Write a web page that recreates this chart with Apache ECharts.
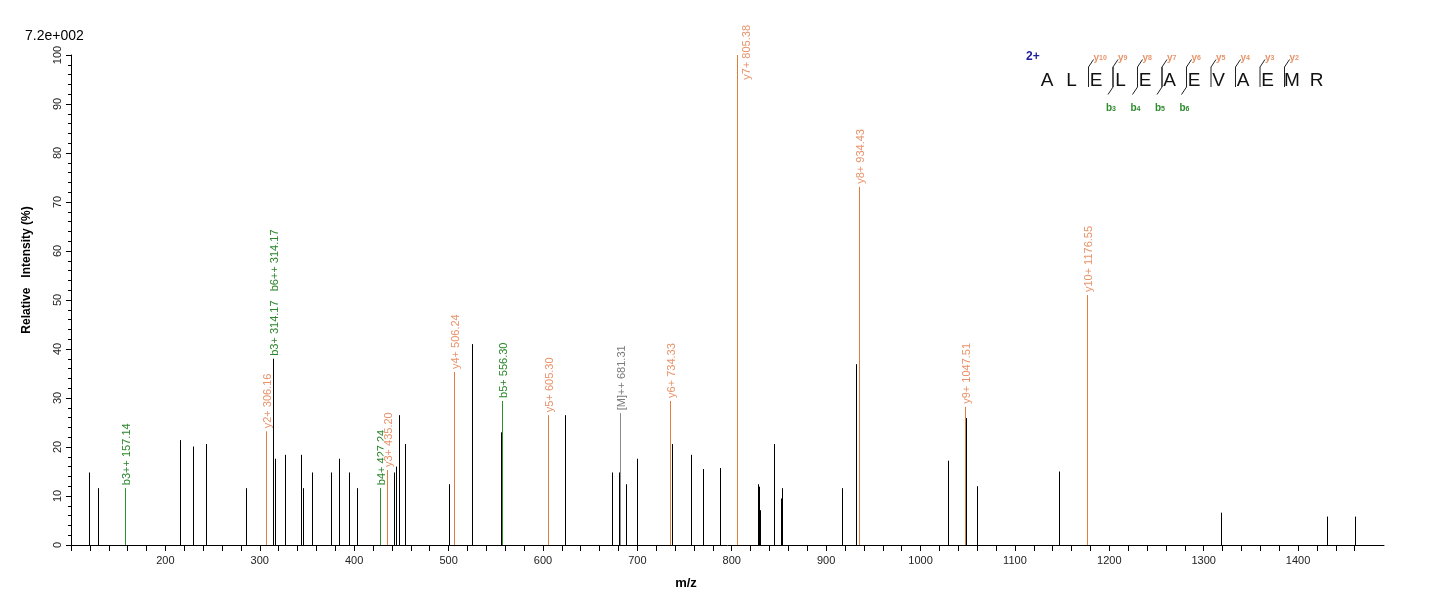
<!DOCTYPE html>
<html lang="en">
<head>
  <meta charset="UTF-8">
  <title>MS/MS spectrum - ALELEAEVAEMR</title>
  <script src="https://cdn.jsdelivr.net/npm/echarts@6/dist/echarts.min.js"></script>
  <style>
    html, body, #main {
      margin: 0;
      padding: 0;
      width: 100%;
      height: 100%;
      background: #fff;
    }
  </style>
</head>
<body>
  <div id="main"></div>

  <script>
    // unassigned peaks (black)
    const otherMz = [119.4, 128.9, 215.2, 228.9, 243.3, 285.1, 314.17, 316.1, 326.4, 343.4,
      345.5, 355.0, 375.1, 383.6, 394.2, 402.7, 442.2, 444.0, 447.0, 454.2,
      500.8, 525.2, 555.6, 623.7, 672.8, 680.9, 688.3, 700.0, 737.0, 757.2,
      769.9, 787.9, 828.1, 829.2, 830.3, 845.1, 852.5, 853.6, 917.1, 931.7,
      1029.1, 1048.4, 1059.7, 1146.2, 1318.0, 1430.3, 1459.8];
    const otherInt = [14.8, 11.6, 21.4, 20.1, 20.6, 11.6, 38.0, 17.6, 18.4, 18.4,
      11.6, 14.8, 14.8, 17.6, 14.8, 11.6, 14.8, 16.0, 26.5, 20.6,
      12.4, 41.0, 23.0, 26.5, 14.8, 14.8, 12.4, 17.6, 20.6, 18.4,
      15.5, 15.7, 12.4, 11.9, 7.1, 20.6, 9.5, 11.6, 11.6, 36.9,
      17.2, 25.9, 12.0, 15.0, 6.6, 5.8, 5.8];

    // b ions (green)
    const bIonMz = [157.14, 314.17, 314.17, 427.24, 556.30];
    const bIonInt = [11.6, 38.0, 38.0, 11.6, 29.4];
    const bIonLabel = ['b3++ 157.14', 'b3+ 314.17', 'b6++ 314.17', 'b4+ 427.24', 'b5+ 556.30'];

    // y ions (orange)
    const yIonMz = [306.16, 435.20, 506.24, 605.30, 734.33, 805.38, 934.43, 1047.51, 1176.55];
    const yIonInt = [23.2, 15.3, 35.3, 26.5, 29.4, 100, 73.1, 28.2, 51.0];
    const yIonLabel = ['y2+ 306.16', 'y3+ 435.20', 'y4+ 506.24', 'y5+ 605.30', 'y6+ 734.33',
      'y7+ 805.38', 'y8+ 934.43', 'y9+ 1047.51', 'y10+ 1176.55'];

    // precursor (grey)
    const precMz = [681.31];
    const precInt = [26.9];
    const precLabel = ['[M]++ 681.31'];

    // peptide header
    const seqLetters = ['A', 'L', 'E', 'L', 'E', 'A', 'E', 'V', 'A', 'E', 'M', 'R'];
    const seqYCuts = [10, 9, 8, 7, 6, 5, 4, 3, 2];
    const seqBCuts = [3, 4, 5, 6];
    const seqCharge = '2+';

    const xTicks = [200, 300, 400, 500, 600, 700, 800, 900, 1000, 1100, 1200, 1300, 1400];
    const xMinorTicks = [];
    for (let v = 100; v <= 1460; v += 20) xMinorTicks.push(v);

    const FONT = '"Liberation Sans", Arial, sans-serif';
    const measureCtx = document.createElement('canvas').getContext('2d');
    measureCtx.font = '11px ' + FONT;

    // merge labels of peaks sitting on the same m/z into one column
    function mergePeaks(mz, inten, labels) {
      const out = [];
      mz.forEach((m, i) => {
        const prev = out.find(p => p[0] === m);
        if (prev) prev[2] += '   ' + labels[i];
        else out.push([m, inten[i], labels[i]]);
      });
      return out;
    }

    function peakSeries(peaks, lineColor, textColor) {
      return {
        type: 'custom',
        coordinateSystem: 'cartesian2d',
        clip: false,
        encode: { x: 0, y: 1 },
        data: peaks.map(p => [p[0], p[1]]),
        renderItem: function (params, api) {
          const base = api.coord([api.value(0), 0]);
          const top = api.coord([api.value(0), api.value(1)]);
          const x = Math.round(base[0]) + 0.5;
          const children = [{
            type: 'line',
            shape: { x1: x, y1: base[1], x2: x, y2: top[1] },
            style: { stroke: lineColor, lineWidth: 1 }
          }];
          const text = peaks[params.dataIndex][2];
          if (text) {
            const w = measureCtx.measureText(text).width;
            let bottom = top[1] - 3;
            let lx = x + 1.5;
            if (bottom - w < 25) {
              bottom = 25 + w;
              lx = x + 9.5;
            }
            children.push({
              type: 'text',
              x: lx,
              y: bottom,
              rotation: Math.PI / 2,
              style: {
                text: text,
                fill: textColor,
                font: '11px ' + FONT,
                align: 'left',
                verticalAlign: 'middle',
                backgroundColor: '#fff'
              }
            });
          }
          return { type: 'group', children: children };
        }
      };
    }

    const bPeaks = mergePeaks(bIonMz, bIonInt, bIonLabel);
    const yPeaks = mergePeaks(yIonMz, yIonInt, yIonLabel);
    const precPeaks = mergePeaks(precMz, precInt, precLabel);
    const otherPeaks = otherMz.map((m, i) => [m, otherInt[i], '']);

    // sequence header graphics
    const seqX0 = 1047, seqStep = 24.5, seqY = 81;
    const header = [{
      type: 'text', x: 1026, y: 57,
      style: { text: seqCharge, font: 'bold 12px ' + FONT, fill: '#1c1c9c', verticalAlign: 'middle' }
    }];
    seqLetters.forEach((ch, i) => {
      header.push({
        type: 'text', x: seqX0 + i * seqStep, y: seqY,
        style: { text: ch, font: '19px ' + FONT, fill: '#111', align: 'center', verticalAlign: 'middle' }
      });
    });
    const cutX = k => seqX0 + k * seqStep - 8;
    seqYCuts.forEach(n => {
      const sx = cutX(seqLetters.length - n) + 0.5;
      header.push({
        type: 'polyline',
        shape: { points: [[sx, 87], [sx, 67], [sx + 5, 59.5]] },
        style: { stroke: '#222', lineWidth: 1, fill: null }
      });
      header.push({
        type: 'text', x: sx + 5, y: 58,
        style: {
          text: '{t|y}{s|' + n + '}',
          rich: {
            t: { font: 'bold 10px ' + FONT, fill: '#e8956b' },
            s: { font: 'bold 7px ' + FONT, fill: '#e8956b' }
          },
          verticalAlign: 'middle'
        }
      });
    });
    seqBCuts.forEach(n => {
      const sx = cutX(n) + 0.5;
      header.push({
        type: 'polyline',
        shape: { points: [[sx, 67], [sx, 87], [sx - 5, 94.5]] },
        style: { stroke: '#222', lineWidth: 1, fill: null }
      });
      header.push({
        type: 'text', x: sx - 7, y: 103,
        style: {
          text: '{t|b}{s|' + n + '}',
          rich: {
            t: { font: 'bold 10px ' + FONT, fill: '#2d8a2d' },
            s: { font: 'bold 7px ' + FONT, fill: '#2d8a2d', verticalAlign: 'bottom' }
          },
          verticalAlign: 'top'
        }
      });
    });

    // axis names
    header.push({
      type: 'text', x: 27, y: 270, rotation: Math.PI / 2,
      style: { text: 'Relative   Intensity (%)', font: 'bold 12px ' + FONT, fill: '#000', align: 'center', verticalAlign: 'middle' }
    });
    header.push({
      type: 'text', x: 686, y: 583,
      style: { text: 'm/z', font: 'bold 13px ' + FONT, fill: '#000', align: 'center', verticalAlign: 'middle' }
    });

    const chart = echarts.init(document.getElementById('main'), null, { renderer: 'canvas' });
    const option = {
      backgroundColor: '#fff',
      animation: false,
      title: {
        text: '7.2e+002',
        left: 20,
        top: 24,
        textStyle: { fontSize: 14, fontWeight: 'normal', color: '#000', fontFamily: FONT }
      },
      grid: { left: 71, right: 52, top: 55, bottom: 60 },
      xAxis: {
        type: 'value',
        min: 100,
        max: 1491,
        interval: 20,
        axisLine: { lineStyle: { color: '#000', width: 1 } },
        axisTick: { length: 6, lineStyle: { color: '#000' }, customValues: xMinorTicks },
        axisLabel: {
          margin: 10,
          fontSize: 11,
          fontFamily: FONT,
          color: '#222',
          customValues: xTicks,
          formatter: v => xTicks.includes(v) ? String(v) : ''
        },
        splitLine: { show: false }
      },
      yAxis: {
        type: 'value',
        min: 0,
        max: 100,
        interval: 10,
        axisLine: { show: true, lineStyle: { color: '#000', width: 1 } },
        axisTick: { show: true, length: 5, lineStyle: { color: '#000' } },
        minorTick: { show: true, splitNumber: 5, length: 3, lineStyle: { color: '#000' } },
        axisLabel: { rotate: 90, margin: 8, fontSize: 11, fontFamily: FONT, color: '#222' },
        splitLine: { show: false }
      },
      graphic: header,
      series: [
        peakSeries(bPeaks, '#2f8f2f', '#2a862a'),
        peakSeries(precPeaks, '#8a8a8a', '#7a7a7a'),
        peakSeries(yPeaks, '#e07d3c', '#e8936a'),
        peakSeries(otherPeaks, '#000', '#000')
      ]
    };

    chart.setOption(option);
  </script>
</body>
</html>
